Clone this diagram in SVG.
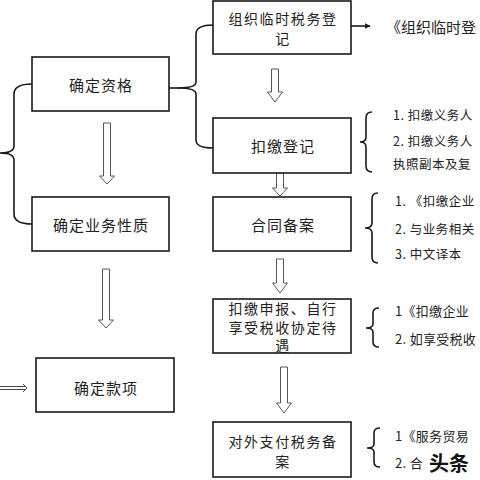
<svg xmlns="http://www.w3.org/2000/svg" width="480" height="480" viewBox="0 0 480 480">
<style>
.box{fill:#fff;stroke:#1a1a1a;stroke-width:1.6}
.bt{font-family:"Noto Sans CJK SC","Noto Sans",sans-serif;font-size:15px;fill:#222;text-anchor:middle;dominant-baseline:central;letter-spacing:1px}
.ml{font-size:14px;letter-spacing:1.6px}
.rt{font-family:"Noto Sans CJK SC","Noto Sans",sans-serif;font-size:12.5px;fill:#222;dominant-baseline:central;letter-spacing:0.5px}
.r13{font-size:13px;letter-spacing:0.3px}
.br{fill:none;stroke:#1a1a1a;stroke-width:1.6}
.ha{fill:#fff;stroke:#555;stroke-width:1}
.ln{fill:none;stroke:#1a1a1a;stroke-width:1.6}
</style>
<defs>
<marker id="ah" viewBox="0 0 10 10" refX="9" refY="5" markerWidth="6" markerHeight="6" orient="auto" markerUnits="userSpaceOnUse"><path d="M0,0 L10,5 L0,10 Z" fill="#1a1a1a"/></marker>
</defs>
<rect width="480" height="480" fill="#fff"/>
<g id="connectors">
<path class="br" d="M32,84 Q14,84 14,94 V146 Q14,153 0,153 Q14,153 14,160 V214 Q14,224 32,224"/>
<path class="br" d="M213,25 Q196,25 196,34 V82 Q196,88 178,88 Q196,88 196,94 V140 Q196,148 213,148"/>
<line class="ln" x1="169" y1="88" x2="180" y2="88"/>
<path class="ha" d="M103.5,123 H110.5 V176 H114.5 L107,184 L99.5,176 H103.5 Z"/>
<path class="ha" d="M102.5,269 H109.5 V320 H113.5 L106,328 L98.5,320 H102.5 Z"/>
<path class="ha" d="M271.5,69 H278.5 V92 H282.5 L275,102 L267.5,92 H271.5 Z"/>
<path class="ha" d="M276.5,173 H283.5 V188 H287.5 L280,196 L272.5,188 H276.5 Z"/>
<path class="ha" d="M276.5,259 H283.5 V283 H287.5 L280,293 L272.5,283 H276.5 Z"/>
<path class="ha" d="M280.5,367 H287.5 V403 H291.5 L284,413 L276.5,403 H280.5 Z"/>
<line class="ln" x1="351" y1="26" x2="370" y2="26" marker-end="url(#ah)"/>
<path fill="none" stroke="#444" stroke-width="1" d="M0,386.5 H25 M0,389.5 H25 M23,384 L27,388 L23,392"/>
<path class="br" d="M372,112 Q366,112 366,118 V137 Q366,142 360,142 Q366,142 366,147 V166 Q366,172 372,172"/>
<path class="br" d="M378,193 Q372,193 372,199 V223 Q372,228 365,228 Q372,228 372,233 V257 Q372,263 378,263"/>
<path class="br" d="M379,308 Q373,308 373,313 V324 Q373,328 366,328 Q373,328 373,332 V342 Q373,347 379,347"/>
<path class="br" d="M380,428 Q374,428 374,433 V444 Q374,448 367,448 Q374,448 374,452 V462 Q374,467 380,467"/>
</g>
<g id="n1"><rect class="box" x="32" y="57" width="137" height="54"/><text class="bt" x="101" y="84">确定资格</text></g>
<g id="n2"><rect class="box" x="32" y="197" width="137" height="54"/><text class="bt" x="101" y="224">确定业务性质</text></g>
<g id="n3"><rect class="box" x="36" y="358" width="138" height="54"/><text class="bt" x="106" y="387">确定款项</text></g>
<g id="n4"><rect class="box" x="213" y="1" width="138" height="53"/><text class="bt ml" x="283" y="18">组织临时税务登<tspan x="283" y="38">记</tspan></text></g>
<g id="n5"><rect class="box" x="213" y="118" width="138" height="55"/><text class="bt" x="283" y="145">扣缴登记</text></g>
<g id="n6"><rect class="box" x="213" y="197" width="138" height="54"/><text class="bt" x="283" y="224">合同备案</text></g>
<g id="n7"><rect class="box" x="213" y="299" width="138" height="54"/><text class="bt ml" x="283" y="308">扣缴申报、自行<tspan x="283" y="326.5">享受税收协定待</tspan><tspan x="283" y="345">遇</tspan></text></g>
<g id="n8"><rect class="box" x="213" y="422" width="138" height="55"/><text class="bt ml" x="283" y="441">对外支付税务备<tspan x="283" y="461">案</tspan></text></g>
<g id="notes">
<text class="rt" x="386" y="26" style="font-size:15px;letter-spacing:0">《组织临时登</text>
<text class="rt" x="393" y="114">1. 扣缴义务人</text>
<text class="rt" x="393" y="140">2. 扣缴义务人</text>
<text class="rt" x="393" y="163">执照副本及复</text>
<text class="rt" x="395" y="200">1. 《扣缴企业</text>
<text class="rt" x="395" y="228">2. 与业务相关</text>
<text class="rt" x="395" y="253">3. 中文译本</text>
<text class="rt r13" x="395" y="310">1《扣缴企业</text>
<text class="rt r13" x="395" y="338">2. 如享受税收</text>
<text class="rt r13" x="395" y="435">1《服务贸易</text>
<text class="rt r13" x="395" y="462">2. 合</text>
</g>
<g id="watermark"><text x="429" y="462" style="font-family:'Noto Sans CJK SC',sans-serif;font-size:20px;font-weight:bold;fill:#111;dominant-baseline:central">头条</text></g>
</svg>
